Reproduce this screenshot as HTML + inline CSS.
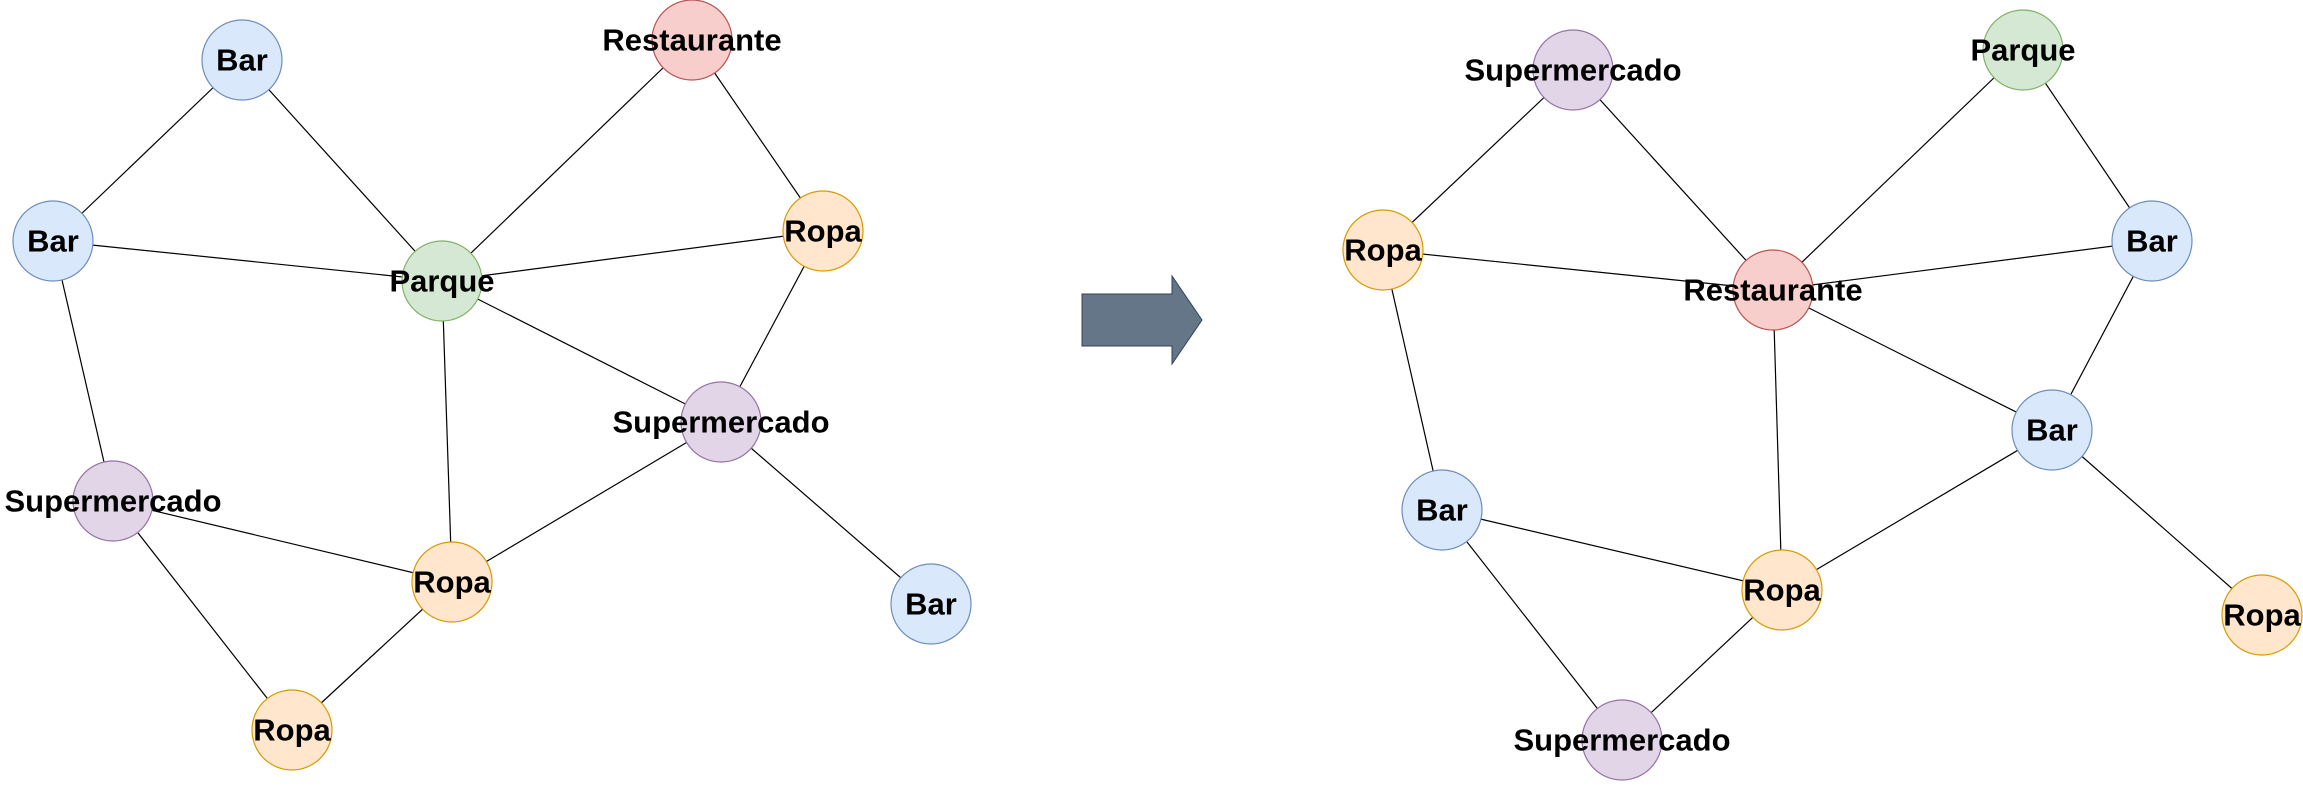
<!DOCTYPE html>
<html><head><meta charset="utf-8"><style>
html,body{margin:0;padding:0;background:#fff;}
svg text{font-family:"Liberation Sans",Arial,sans-serif;font-weight:bold;font-size:31px;text-anchor:middle;dominant-baseline:central;fill:#000;}
</style></head><body>
<svg width="2303" height="781" viewBox="0 0 2303 781" xmlns="http://www.w3.org/2000/svg">
<g stroke="#000" stroke-width="1.2">
<line x1="242" y1="60" x2="53" y2="241"/>
<line x1="242" y1="60" x2="442" y2="281"/>
<line x1="53" y1="241" x2="442" y2="281"/>
<line x1="692" y1="40" x2="442" y2="281"/>
<line x1="692" y1="40" x2="823" y2="231"/>
<line x1="442" y1="281" x2="823" y2="231"/>
<line x1="442" y1="281" x2="721" y2="422"/>
<line x1="823" y1="231" x2="721" y2="422"/>
<line x1="442" y1="281" x2="452" y2="582"/>
<line x1="53" y1="241" x2="113" y2="501"/>
<line x1="113" y1="501" x2="452" y2="582"/>
<line x1="721" y1="422" x2="452" y2="582"/>
<line x1="721" y1="422" x2="931" y2="604"/>
<line x1="113" y1="501" x2="292" y2="730"/>
<line x1="452" y1="582" x2="292" y2="730"/>

<line x1="1573" y1="70" x2="1383" y2="250"/>
<line x1="1573" y1="70" x2="1773" y2="290"/>
<line x1="2023" y1="50" x2="1773" y2="290"/>
<line x1="2023" y1="50" x2="2152" y2="241"/>
<line x1="1383" y1="250" x2="1773" y2="290"/>
<line x1="1773" y1="290" x2="2152" y2="241"/>
<line x1="1383" y1="250" x2="1442" y2="510"/>
<line x1="1773" y1="290" x2="1782" y2="590"/>
<line x1="1773" y1="290" x2="2052" y2="430"/>
<line x1="2152" y1="241" x2="2052" y2="430"/>
<line x1="2052" y1="430" x2="1782" y2="590"/>
<line x1="2052" y1="430" x2="2262" y2="615"/>
<line x1="1442" y1="510" x2="1782" y2="590"/>
<line x1="1442" y1="510" x2="1622" y2="740"/>
<line x1="1782" y1="590" x2="1622" y2="740"/>
</g>
<g stroke-width="1.2">
<circle cx="242" cy="60" r="40" fill="#dae8fc" stroke="#6c8ebf"/>
<circle cx="692" cy="40" r="40" fill="#f8cecc" stroke="#b85450"/>
<circle cx="53" cy="241" r="40" fill="#dae8fc" stroke="#6c8ebf"/>
<circle cx="442" cy="281" r="40" fill="#d5e8d4" stroke="#82b366"/>
<circle cx="823" cy="231" r="40" fill="#ffe6cc" stroke="#d79b00"/>
<circle cx="721" cy="422" r="40" fill="#e1d5e7" stroke="#9673a6"/>
<circle cx="113" cy="501" r="40" fill="#e1d5e7" stroke="#9673a6"/>
<circle cx="452" cy="582" r="40" fill="#ffe6cc" stroke="#d79b00"/>
<circle cx="931" cy="604" r="40" fill="#dae8fc" stroke="#6c8ebf"/>
<circle cx="292" cy="730" r="40" fill="#ffe6cc" stroke="#d79b00"/>

<circle cx="1573" cy="70" r="40" fill="#e1d5e7" stroke="#9673a6"/>
<circle cx="2023" cy="50" r="40" fill="#d5e8d4" stroke="#82b366"/>
<circle cx="1383" cy="250" r="40" fill="#ffe6cc" stroke="#d79b00"/>
<circle cx="1773" cy="290" r="40" fill="#f8cecc" stroke="#b85450"/>
<circle cx="2152" cy="241" r="40" fill="#dae8fc" stroke="#6c8ebf"/>
<circle cx="2052" cy="430" r="40" fill="#dae8fc" stroke="#6c8ebf"/>
<circle cx="1442" cy="510" r="40" fill="#dae8fc" stroke="#6c8ebf"/>
<circle cx="1782" cy="590" r="40" fill="#ffe6cc" stroke="#d79b00"/>
<circle cx="2262" cy="615" r="40" fill="#ffe6cc" stroke="#d79b00"/>
<circle cx="1622" cy="740" r="40" fill="#e1d5e7" stroke="#9673a6"/>
</g>
<polygon points="1082,294 1172,294 1172,276 1202,320 1172,364 1172,346 1082,346" fill="#647687" stroke="#314354" stroke-width="1"/>
<g>
<text x="242" y="60">Bar</text>
<text x="692" y="40">Restaurante</text>
<text x="53" y="241">Bar</text>
<text x="442" y="281">Parque</text>
<text x="823" y="231">Ropa</text>
<text x="721" y="422">Supermercado</text>
<text x="113" y="501">Supermercado</text>
<text x="452" y="582">Ropa</text>
<text x="931" y="604">Bar</text>
<text x="292" y="730">Ropa</text>

<text x="1573" y="70">Supermercado</text>
<text x="2023" y="50">Parque</text>
<text x="1383" y="250">Ropa</text>
<text x="1773" y="290">Restaurante</text>
<text x="2152" y="241">Bar</text>
<text x="2052" y="430">Bar</text>
<text x="1442" y="510">Bar</text>
<text x="1782" y="590">Ropa</text>
<text x="2262" y="615">Ropa</text>
<text x="1622" y="740">Supermercado</text>
</g>
</svg>
</body></html>
